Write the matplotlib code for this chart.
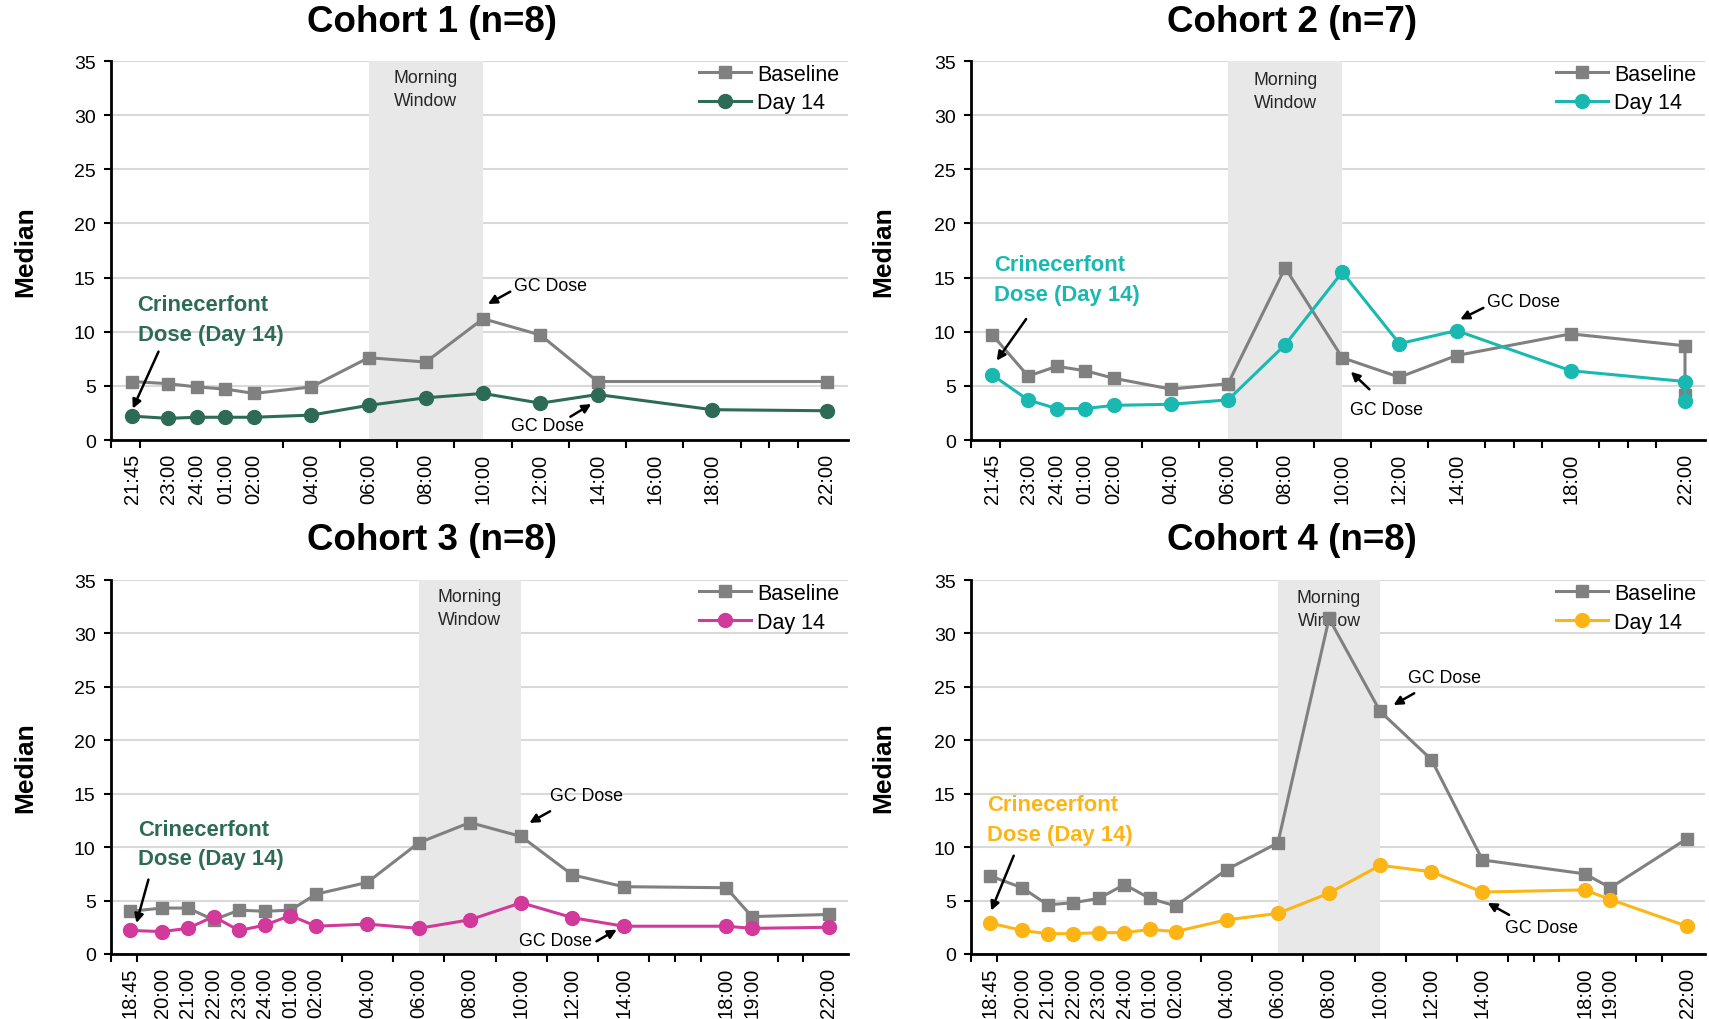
import numpy as np
import matplotlib
matplotlib.use("Agg")
import matplotlib.pyplot as plt

plt.rcParams['font.family'] = ['Liberation Sans', 'DejaVu Sans']

BASE_GRAY = '#808080'
GREEN = '#2d6b57'
TEAL = '#19b9b1'
MAGENTA = '#d1399a'
AMBER = '#fdb515'

# ---------------- Cohort 1 (n=8) ----------------
c1_ticks = ["21:45", "23:00", "24:00", "01:00", "02:00", "04:00", "06:00", "08:00",
            "10:00", "12:00", "14:00", "16:00", "18:00", "22:00"]
c1_base_times = ["21:45", "23:00", "24:00", "01:00", "02:00", "04:00", "06:00", "08:00",
                 "10:00", "12:00", "14:00", "22:00"]
c1_base_vals = [5.4, 5.2, 4.9, 4.7, 4.3, 4.9, 7.6, 7.2, 11.2, 9.7, 5.4, 5.4]
c1_d14_times = ["21:45", "23:00", "24:00", "01:00", "02:00", "04:00", "06:00", "08:00",
                "10:00", "12:00", "14:00", "18:00", "22:00"]
c1_d14_vals = [2.2, 2.0, 2.1, 2.1, 2.1, 2.3, 3.2, 3.9, 4.3, 3.4, 4.2, 2.8, 2.7]

# ---------------- Cohort 2 (n=7) ----------------
c2_ticks = ["21:45", "23:00", "24:00", "01:00", "02:00", "04:00", "06:00", "08:00",
            "10:00", "12:00", "14:00", "18:00", "22:00"]
c2_base_times = ["21:45", "23:00", "24:00", "01:00", "02:00", "04:00", "06:00", "08:00",
                 "10:00", "12:00", "14:00", "18:00", "22:00", "22:00"]
c2_base_vals = [9.7, 5.9, 6.8, 6.4, 5.7, 4.7, 5.2, 15.9, 7.6, 5.8, 7.8, 9.8, 8.7, 4.2]
c2_d14_times = c2_base_times
c2_d14_vals = [6.0, 3.7, 2.9, 2.9, 3.2, 3.3, 3.7, 8.8, 15.5, 8.9, 10.1, 6.4, 5.4, 3.6]

# ---------------- Cohort 3 (n=8) ----------------
c3_ticks = ["18:45", "20:00", "21:00", "22:00", "23:00", "24:00", "01:00", "02:00",
            "04:00", "06:00", "08:00", "10:00", "12:00", "14:00", "18:00", "19:00", "22:00"]
c3_base_times = c3_ticks
c3_base_vals = [4.0, 4.3, 4.3, 3.2, 4.1, 4.0, 4.1, 5.6, 6.7, 10.4, 12.3, 11.0, 7.4, 6.3,
                6.2, 3.5, 3.7]
c3_d14_times = c3_ticks
c3_d14_vals = [2.2, 2.1, 2.4, 3.5, 2.2, 2.7, 3.6, 2.6, 2.8, 2.4, 3.2, 4.8, 3.4, 2.6,
               2.6, 2.4, 2.5]

# ---------------- Cohort 4 (n=8) ----------------
c4_ticks = c3_ticks
c4_base_times = c3_ticks
c4_base_vals = [7.3, 6.2, 4.6, 4.8, 5.2, 6.5, 5.2, 4.5, 7.9, 10.4, 31.4, 22.7, 18.2, 8.8,
                7.5, 6.2, 10.8]
c4_d14_times = c3_ticks
c4_d14_vals = [2.9, 2.2, 1.9, 1.9, 2.0, 2.0, 2.3, 2.1, 3.2, 3.8, 5.7, 8.3, 7.7, 5.8,
               6.0, 5.1, 2.6]


def elapsed(labels, start):
    """Convert an ordered list of clock labels into hours elapsed since `start`."""
    out, offset, prev = [], 0.0, -1.0
    for lab in labels:
        h, m = lab.split(':')
        v = int(h) + int(m) / 60.0
        if v + offset < prev:
            offset += 24
        prev = v + offset
        out.append(prev - start)
    return out


W, H = 1709, 1020
fig = plt.figure(figsize=(W / 100, H / 100), dpi=100)


def box(l, t, r, b):
    return [l / W, 1 - b / H, (r - l) / W, (b - t) / H]


panels = [
    dict(title="Cohort 1 (n=8)", rect=box(111, 62, 848, 441), start=21, xmax=25.75,
         ticks=c1_ticks, bt=c1_base_times, bv=c1_base_vals, dt=c1_d14_times, dv=c1_d14_vals,
         color=GREEN, crin_color=GREEN, title_xy=(432, 22), ylab_x=25,
         crin=((0.93, 11.1), (1.66, 8.16), (0.76, 2.9)),
         gc=[((14.07, 14.25), (13.95, 13.7), (13.17, 12.56)),
             ((13.98, 1.38), (16.05, 2.15), (16.78, 3.32))],
         mw_y=32.4),
    dict(title="Cohort 2 (n=7)", rect=box(971, 62, 1705, 441), start=21, xmax=25.7,
         ticks=c2_ticks, bt=c2_base_times, bv=c2_base_vals, dt=c2_d14_times, dv=c2_d14_vals,
         color=TEAL, crin_color=TEAL, title_xy=(1292, 22), ylab_x=883,
         crin=((0.8, 14.8), (1.93, 11.17), (0.9, 7.33)),
         gc=[((18.07, 12.77), (17.94, 12.2), (17.13, 11.14)),
             ((13.26, 2.86), (13.95, 4.68), (13.3, 6.3))],
         mw_y=32.2),
    dict(title="Cohort 3 (n=8)", rect=box(111, 581, 848, 955), start=18, xmax=28.75,
         ticks=c3_ticks, bt=c3_base_times, bv=c3_base_vals, dt=c3_d14_times, dv=c3_d14_vals,
         color=MAGENTA, crin_color=GREEN, title_xy=(432, 540), ylab_x=25,
         crin=((1.04, 10.3), (1.46, 6.96), (0.99, 2.9)),
         gc=[((17.13, 14.83), (17.13, 13.36), (16.32, 12.27)),
             ((15.9, 1.25), (18.94, 1.19), (19.73, 2.28))],
         mw_y=32.4),
    dict(title="Cohort 4 (n=8)", rect=box(971, 581, 1705, 955), start=18, xmax=28.7,
         ticks=c4_ticks, bt=c4_base_times, bv=c4_base_vals, dt=c4_d14_times, dv=c4_d14_vals,
         color=AMBER, crin_color=AMBER, title_xy=(1292, 540), ylab_x=883,
         crin=((0.625, 12.6), (1.67, 9.2), (0.79, 4.06)),
         gc=[((17.08, 25.9), (17.33, 24.4), (16.52, 23.3)),
             ((20.87, 2.5), (21.04, 3.66), (20.2, 4.78))],
         mw_y=32.3),
]

arrow_kw = dict(arrowstyle='-|>', color='black', lw=1.8, mutation_scale=13,
                shrinkA=0, shrinkB=0)

for p in panels:
    ax = fig.add_axes(p['rect'])
    tick_pos = elapsed(p['ticks'], p['start'])
    win0 = tick_pos[p['ticks'].index("06:00")]
    win1 = tick_pos[p['ticks'].index("10:00")]

    ax.axvspan(win0, win1, color='#e8e8e8', zorder=0.7, lw=0)
    ax.text((win0 + win1) / 2, p['mw_y'], "Morning\nWindow", ha='center', va='center',
            fontsize=12.8, color='#262626', linespacing=1.45, zorder=1)

    ax.plot(elapsed(p['bt'], p['start']), p['bv'], color=BASE_GRAY, lw=2.2, marker='s',
            markersize=9, label='Baseline', zorder=3)
    ax.plot(elapsed(p['dt'], p['start']), p['dv'], color=p['color'], lw=2.2, marker='o',
            markersize=10, label='Day 14', zorder=4)

    ax.set_xlim(0, p['xmax'])
    ax.set_ylim(0, 35)
    ax.set_yticks(np.arange(0, 36, 5))
    ax.set_xticks(tick_pos)
    ax.set_xticklabels(p['ticks'], rotation=90, fontsize=14.5)
    ax.set_xticks(np.arange(0, int(p['xmax']) + 1), minor=True)
    ax.tick_params(axis='x', which='major', length=0, pad=9)
    ax.tick_params(axis='x', which='minor', length=6, width=1.5, direction='out')
    ax.tick_params(axis='y', length=5, width=1.5, labelsize=14, pad=6)
    ax.grid(axis='y', color='#d9d9d9', lw=1.5)
    ax.set_axisbelow(True)
    for s in ('top', 'right'):
        ax.spines[s].set_visible(False)
    for s in ('left', 'bottom'):
        ax.spines[s].set_linewidth(2)
        ax.spines[s].set_color('black')
        ax.spines[s].set_zorder(5)

    ax.legend(loc='upper right', bbox_to_anchor=(1.0, 1.015), frameon=False, fontsize=15.5,
              handlelength=2.4, handletextpad=0.3, labelspacing=0.35, borderaxespad=0)

    (tx, ty), (ax0, ay0), (ax1, ay1) = p['crin']
    ax.text(tx, ty, "Crinecerfont\nDose (Day 14)", ha='left', va='center', fontsize=15.8,
            fontweight='bold', color=p['crin_color'], linespacing=1.55, zorder=6)
    ax.annotate('', xy=(ax1, ay1), xytext=(ax0, ay0), arrowprops=arrow_kw, zorder=6)

    for (gx, gy), (a0x, a0y), (a1x, a1y) in p['gc']:
        ax.text(gx, gy, "GC Dose", ha='left', va='center', fontsize=12.8,
                color='black', zorder=6)
        ax.annotate('', xy=(a1x, a1y), xytext=(a0x, a0y), arrowprops=arrow_kw, zorder=6)

    fig.text(p['title_xy'][0] / W, 1 - p['title_xy'][1] / H, p['title'], ha='center',
             va='center', fontsize=26.5, fontweight='bold')
    ycen = p['rect'][1] + p['rect'][3] / 2
    fig.text(p['ylab_x'] / W, ycen, "Median", rotation=90, ha='center', va='center',
             fontsize=19, fontweight='bold')

fig.savefig("out.png", dpi=100)
